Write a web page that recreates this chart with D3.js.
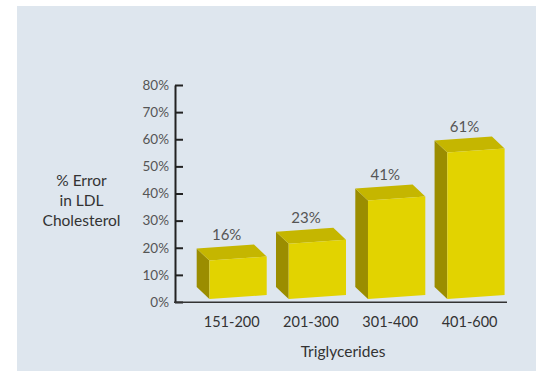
<!DOCTYPE html>
<html>
<head>
<meta charset="utf-8">
<script src="https://cdn.jsdelivr.net/npm/d3@7"></script>
<style>
  body { margin: 0; background: #fff; }
  text { font-family: Lato, "Open Sans", sans-serif; }
</style>
</head>
<body>
<div id="chart"></div>
<script>
const categories = ['151-200', '201-300', '301-400', '401-600'];
const errorPct = [16, 23, 41, 61];
const tickValues = [0, 10, 20, 30, 40, 50, 60, 70, 80];
const yTitle = ['% Error', 'in LDL', 'Cholesterol'];
const xTitle = 'Triglycerides';

const width = 536, height = 371;

const svg = d3.select('#chart').append('svg')
    .attr('width', width)
    .attr('height', height);

// panel background
svg.append('rect')
    .attr('x', 17).attr('y', 6)
    .attr('width', width - 17).attr('height', height - 6)
    .attr('fill', '#dee6ee');

const xScale = d3.scaleBand()
    .domain(categories)
    .range([196.7, 504.6])
    .paddingInner(0.117)
    .paddingOuter(0);

// axis scale and bar scale differ in the original drawing
const yScale = d3.scaleLinear().domain([0, 80]).range([302, 85]);
const yBar = d3.scaleLinear().domain([0, 80]).range([297, 105]);

const depthX = 12.7, depthY = 12, slope = 4 / 57;

const yAxis = d3.axisLeft(yScale)
    .tickValues(tickValues)
    .tickFormat(d => d + '%')
    .tickSizeInner(-8)
    .tickSizeOuter(0)
    .tickPadding(6);

const gy = svg.append('g')
    .attr('transform', 'translate(175,0)')
    .call(yAxis);
gy.select('.domain').attr('stroke', '#222').attr('stroke-width', 2);
gy.selectAll('.tick line').attr('stroke', '#222').attr('stroke-width', 2);
gy.selectAll('.tick text')
    .attr('fill', '#555')
    .style('font-size', '13.5px')
    .style('font-family', 'Lato, sans-serif');

// baseline
svg.append('line')
    .attr('x1', 174).attr('x2', 507)
    .attr('y1', 302.3).attr('y2', 302.3)
    .attr('stroke', '#333').attr('stroke-width', 1.6);

const bars = categories.map((c, i) => ({ cat: c, val: errorPct[i] }));

const g = svg.append('g');
bars.forEach(d => {
    const band = xScale(d.cat);
    const fl = band + depthX;
    const fr = band + xScale.bandwidth();
    const cx = (fl + fr) / 2;
    const yb = yBar(0), yt = yBar(d.val);
    const yAt = (x, base) => base - slope * (x - cx);

    const pts = a => a.map(p => p.join(',')).join(' ');

    // side face
    g.append('polygon')
        .attr('points', pts([
            [band, yAt(fl, yb) - depthY], [fl, yAt(fl, yb)],
            [fl, yAt(fl, yt)], [band, yAt(fl, yt) - depthY]
        ]))
        .attr('fill', '#9b8d00');
    // top face
    g.append('polygon')
        .attr('points', pts([
            [fl, yAt(fl, yt)], [fr, yAt(fr, yt)],
            [fr - depthX, yAt(fr, yt) - depthY], [band, yAt(fl, yt) - depthY]
        ]))
        .attr('fill', '#c5b600');
    // front face
    g.append('polygon')
        .attr('points', pts([
            [fl, yAt(fl, yb)], [fr, yAt(fr, yb)],
            [fr, yAt(fr, yt)], [fl, yAt(fl, yt)]
        ]))
        .attr('fill', '#e2d300');

    g.append('text')
        .attr('x', band + 30)
        .attr('y', yAt(fl, yt) - depthY - 9)
        .attr('text-anchor', 'middle')
        .attr('fill', '#555')
        .style('font-size', '15px')
        .text(d.val + '%');

    svg.append('text')
        .attr('x', band + xScale.bandwidth() / 2)
        .attr('y', 326.5)
        .attr('text-anchor', 'middle')
        .attr('fill', '#333')
        .style('font-size', '14.5px')
        .text(d.cat);
});

svg.append('text')
    .attr('x', 343)
    .attr('y', 356.5)
    .attr('text-anchor', 'middle')
    .attr('fill', '#333')
    .style('font-size', '15.5px')
    .text(xTitle);

svg.append('text')
    .attr('text-anchor', 'middle')
    .attr('fill', '#333')
    .style('font-size', '15.5px')
    .selectAll('tspan')
    .data(yTitle)
    .join('tspan')
    .attr('x', 81.5)
    .attr('y', (d, i) => 185.5 + i * 20)
    .text(d => d);
</script>
</body>
</html>
